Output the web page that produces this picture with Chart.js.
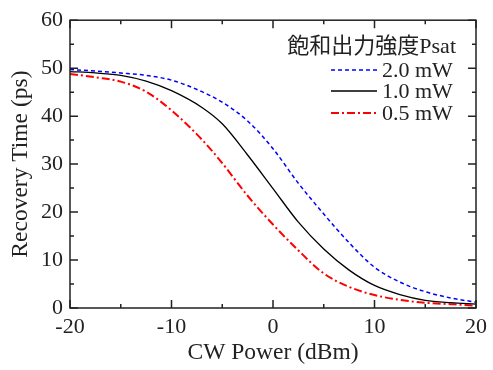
<!DOCTYPE html>
<html>
<head>
<meta charset="utf-8">
<script src="https://cdn.jsdelivr.net/npm/chart.js@4/dist/chart.umd.min.js"></script>
<style>
  html, body { margin: 0; padding: 0; background: #fff; }
  #wrap { width: 493px; height: 370px; }
</style>
</head>
<body>
<div id="wrap"><canvas id="myLineChart" width="493" height="370"></canvas></div>
<script>
// CW power (dBm)
var power = [-20, -17.5, -15, -12.5, -10, -7, -5, -2.5, 0, 2.5, 5, 7.5, 10, 12.5, 15, 17.5, 20];

// recovery time (ps) for each Psat
var psat20 = [49.7, 49.4, 49.0, 48.5, 47.5, 45.1, 42.9, 39.0, 33.2, 26.0, 19.6, 13.6, 8.5, 5.4, 3.4, 2.1, 1.2];
var psat10 = [49.3, 49.0, 48.5, 47.3, 45.3, 41.8, 38.4, 31.9, 24.9, 17.9, 12.3, 7.9, 4.7, 2.8, 1.6, 1.1, 0.8];
var psat05 = [48.8, 48.1, 47.2, 45.1, 41.2, 35.1, 30.2, 23.4, 17.4, 12.0, 7.2, 4.4, 2.7, 1.7, 1.1, 0.8, 0.5];

var seriesLabels = ['2.0 mW', '1.0 mW', '0.5 mW'];
var legendTitle = '飽和出力強度Psat';
var xTitle = 'CW Power (dBm)';
var yTitle = 'Recovery Time (ps)';

var serif = "'Liberation Serif', 'Times New Roman', 'Noto Sans CJK JP', serif";

function pts(ys) {
    return power.map(function (p, i) { return { x: p, y: ys[i] }; });
}

// frame + inward ticks on all four sides
var frameTicks = {
    id: 'frameTicks',
    afterDatasetsDraw: function (chart) {
        var ctx = chart.ctx, a = chart.chartArea;
        var xs = chart.scales.x, ys = chart.scales.y;
        ctx.save();
        ctx.strokeStyle = '#222';
        ctx.lineWidth = 1.5;
        ctx.strokeRect(a.left, a.top, a.right - a.left, a.bottom - a.top);
        ctx.beginPath();
        for (var v = -20; v <= 20; v += 5) {
            var px = xs.getPixelForValue(v);
            var len = (v % 10 === 0) ? 8 : 4;
            ctx.moveTo(px, a.bottom); ctx.lineTo(px, a.bottom - len);
            ctx.moveTo(px, a.top); ctx.lineTo(px, a.top + len);
        }
        for (var w = 0; w <= 60; w += 5) {
            var py = ys.getPixelForValue(w);
            var l2 = (w % 10 === 0) ? 8 : 4;
            ctx.moveTo(a.left, py); ctx.lineTo(a.left + l2, py);
            ctx.moveTo(a.right, py); ctx.lineTo(a.right - l2, py);
        }
        ctx.stroke();
        ctx.restore();
    }
};

// legend drawn inside the plot, top right
var insideLegend = {
    id: 'insideLegend',
    afterDraw: function (chart) {
        var ctx = chart.ctx;
        ctx.save();
        ctx.fillStyle = '#222';
        ctx.textBaseline = 'middle';
        ctx.font = "22px 'Liberation Serif', 'Noto Sans CJK JP', serif";
        ctx.textAlign = 'right';
        ctx.fillText(legendTitle, 456, 47);
        ctx.textAlign = 'left';
        var rowsY = [70, 91, 113];
        chart.data.datasets.forEach(function (ds, i) {
            var y = rowsY[i];
            ctx.save();
            ctx.strokeStyle = ds.borderColor;
            ctx.lineWidth = ds.borderWidth;
            ctx.setLineDash(ds.borderDash || []);
            ctx.beginPath();
            ctx.moveTo(331, y);
            ctx.lineTo(377, y);
            ctx.stroke();
            ctx.restore();
            ctx.fillText(ds.label, 382, y + 1);
        });
        ctx.restore();
    }
};

var ctx = document.getElementById('myLineChart').getContext('2d');
var chart = new Chart(ctx, {
    type: 'line',
    data: {
        datasets: [
            {
                label: seriesLabels[0],
                data: pts(psat20),
                borderColor: 'rgb(0,0,255)',
                borderWidth: 1.5,
                borderDash: [4, 3],
            },
            {
                label: seriesLabels[1],
                data: pts(psat10),
                borderColor: 'rgb(0,0,0)',
                borderWidth: 1.3,
            },
            {
                label: seriesLabels[2],
                data: pts(psat05),
                borderColor: 'rgb(255,0,0)',
                borderWidth: 2,
                borderDash: [8, 3, 2, 3],
            },
        ]
    },
    options: {
        responsive: false,
        animation: false,
        layout: { padding: { top: 17, right: 15, left: 0, bottom: 0 } },
        elements: {
            point: { radius: 0 },
            line: { cubicInterpolationMode: 'monotone', fill: false }
        },
        plugins: {
            legend: { display: false },
            tooltip: { enabled: false }
        },
        scales: {
            x: {
                type: 'linear',
                min: -20, max: 20,
                ticks: { stepSize: 10, padding: 6, color: '#222', font: { family: serif, size: 22 } },
                grid: { display: false, drawTicks: false },
                border: { display: false },
                title: { display: true, text: xTitle, color: '#222',
                         font: { family: serif, size: 23.5, lineHeight: 1.1 },
                         padding: { top: 0, bottom: 4 } },
                afterFit: function (s) { s.height = 62; }
            },
            y: {
                min: 0, max: 60,
                ticks: { stepSize: 10, padding: 7, color: '#222', font: { family: serif, size: 22 } },
                grid: { display: false, drawTicks: false },
                border: { display: false },
                title: { display: true, text: yTitle, color: '#222',
                         font: { family: serif, size: 23.5, lineHeight: 1.1 },
                         padding: { top: 8, bottom: 0 } },
                afterFit: function (s) { s.width = 70; }
            }
        }
    },
    plugins: [frameTicks, insideLegend]
});
</script>
</body>
</html>
